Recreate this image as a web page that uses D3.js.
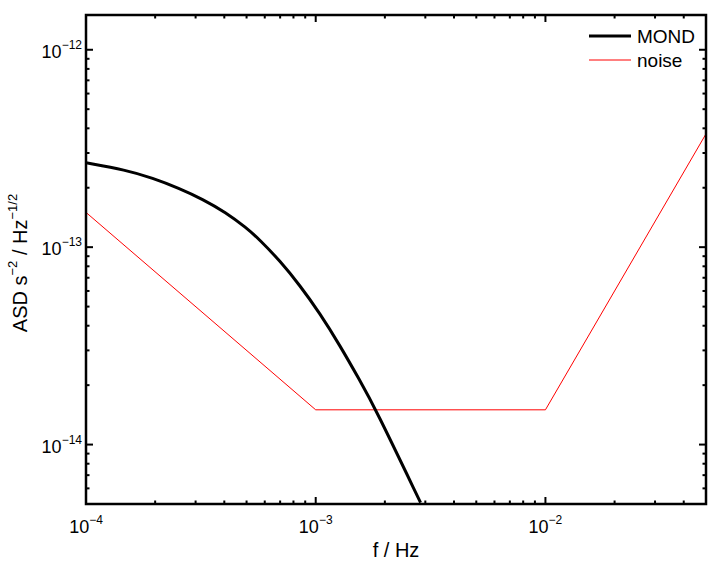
<!DOCTYPE html>
<html>
<head>
<meta charset="utf-8">
<script src="https://cdn.jsdelivr.net/npm/d3@7"></script>
<style>
  body { margin: 0; background: #fff; }
  text { font-family: "Liberation Sans", Arial, Helvetica, sans-serif; fill: #000; }
</style>
</head>
<body>
<svg width="716" height="561"></svg>
<script>
// frequencies (Hz) and amplitude spectral densities
var mondFreq = [1.0e-4, 1.49e-4, 1.95e-4, 2.54e-4, 3.22e-4, 4.06e-4, 4.96e-4, 5.71e-4,
		6.98e-4, 8.52e-4, 1.04e-3, 1.27e-3, 1.55e-3, 1.81e-3, 2.86e-3];
var mondAsd  = [2.675e-13, 2.46e-13, 2.24e-13, 1.99e-13, 1.75e-13, 1.50e-13, 1.26e-13, 1.09e-13,
		8.53e-14, 6.42e-14, 4.64e-14, 3.20e-14, 2.13e-14, 1.54e-14, 5.08e-15];

var noiseFreq = [1e-4, 1e-3, 1e-2, 5e-2];
var noiseAsd  = [1.5e-13, 1.5e-14, 1.5e-14, 3.75e-13];

var xDomain = [1e-4, 5e-2];
var yDomain = [5e-15, 1.5e-12];
var xMajor = [-4, -3, -2];        // exponents of labelled x ticks
var yMajor = [-14, -13, -12];     // exponents of labelled y ticks

var legendNames = ["MOND", "noise"];

/////////////////////////
// scales
/////////////////////////
var pLeft = 86, pRight = 706, pTop = 15, pBottom = 504;

var x = d3.scaleLog().domain(xDomain).range([pLeft, pRight]);
var y = d3.scaleLog().domain(yDomain).range([pBottom, pTop]);

var svg = d3.select("svg");

svg.append("defs").append("clipPath")
    .attr("id", "plotclip")
    .append("rect")
    .attr("x", pLeft).attr("y", pTop)
    .attr("width", pRight - pLeft).attr("height", pBottom - pTop);

/////////////////////////
// courbes
/////////////////////////
var lines = svg.append("g").attr("clip-path", "url(#plotclip)");

var noiseLine = d3.line()
    .x(function(d, i){ return x(noiseFreq[i]); })
    .y(function(d, i){ return y(noiseAsd[i]); });

lines.append("path")
    .attr("d", noiseLine(noiseFreq))
    .attr("fill", "none")
    .attr("stroke", "#ff0000")
    .attr("stroke-width", 1);

var mondLine = d3.line()
    .curve(d3.curveBasis)
    .x(function(d, i){ return x(mondFreq[i]); })
    .y(function(d, i){ return y(mondAsd[i]); });

lines.append("path")
    .attr("d", mondLine(mondFreq))
    .attr("fill", "none")
    .attr("stroke", "#000")
    .attr("stroke-width", 3);

/////////////////////////
// ticks (inside, on all four sides)
/////////////////////////
var ticks = svg.append("g").attr("stroke", "#000");

function isMajor(v){ return Math.abs(Math.log10(v) - Math.round(Math.log10(v))) < 1e-6; }

x.ticks().forEach(function(v){
    var len = isMajor(v) ? 7 : 3.5;
    var px = x(v);
    ticks.append("line").attr("x1", px).attr("x2", px)
	.attr("y1", pBottom).attr("y2", pBottom - len).attr("stroke-width", 2);
    ticks.append("line").attr("x1", px).attr("x2", px)
	.attr("y1", pTop).attr("y2", pTop + len).attr("stroke-width", 2);
});

y.ticks().forEach(function(v){
    var len = isMajor(v) ? 7 : 3.5;
    var py = y(v);
    ticks.append("line").attr("y1", py).attr("y2", py)
	.attr("x1", pLeft).attr("x2", pLeft + len).attr("stroke-width", 2);
    ticks.append("line").attr("y1", py).attr("y2", py)
	.attr("x1", pRight).attr("x2", pRight - len).attr("stroke-width", 2);
});

// cadre
svg.append("rect")
    .attr("x", pLeft).attr("y", pTop)
    .attr("width", pRight - pLeft).attr("height", pBottom - pTop)
    .attr("fill", "none")
    .attr("stroke", "#000")
    .attr("stroke-width", 2.5);

/////////////////////////
// tick labels
/////////////////////////
function powerLabel(g, e){
    g.append("tspan").text("10");
    g.append("tspan").attr("font-size", "12px").attr("dy", -9).text("\u2212" + Math.abs(e));
}

xMajor.forEach(function(e){
    var t = svg.append("text")
	.attr("x", x(Math.pow(10, e)))
	.attr("y", 533)
	.attr("font-size", "18px")
	.attr("text-anchor", "middle");
    powerLabel(t, e);
});

yMajor.forEach(function(e){
    var t = svg.append("text")
	.attr("x", 82)
	.attr("y", y(Math.pow(10, e)) + 8)
	.attr("font-size", "18px")
	.attr("text-anchor", "end");
    powerLabel(t, e);
});

/////////////////////////
// axis titles
/////////////////////////
svg.append("text")
    .attr("x", (pLeft + pRight) / 2)
    .attr("y", 557)
    .attr("font-size", "20px")
    .attr("text-anchor", "middle")
    .text("f / Hz");

var yl = svg.append("text")
    .attr("transform", "translate(27," + 263 + ") rotate(-90)")
    .attr("font-size", "20px")
    .attr("text-anchor", "middle");
yl.append("tspan").text("ASD s");
yl.append("tspan").attr("font-size", "13px").attr("dy", -10).text("\u22122");
yl.append("tspan").attr("dy", 10).text(" / Hz");
yl.append("tspan").attr("font-size", "13px").attr("dy", -10).text("\u22121/2");

/////////////////////////
// legend
/////////////////////////
var legend = svg.append("g").attr("class", "legend");
var legendStyle = [
    { stroke: "#000", width: 3 },
    { stroke: "#ff0000", width: 1 }
];

legend.selectAll("g")
    .data(legendNames)
    .enter().append("g")
    .each(function(d, i){
	var g = d3.select(this);
	var ly = 36 + i * 24;
	g.append("line")
	    .attr("x1", 589).attr("x2", 631)
	    .attr("y1", ly).attr("y2", ly)
	    .attr("stroke", legendStyle[i].stroke)
	    .attr("stroke-width", legendStyle[i].width);
	g.append("text")
	    .attr("x", 637).attr("y", ly + 7)
	    .attr("font-size", "19px")
	    .text(d);
    });
</script>
</body>
</html>
